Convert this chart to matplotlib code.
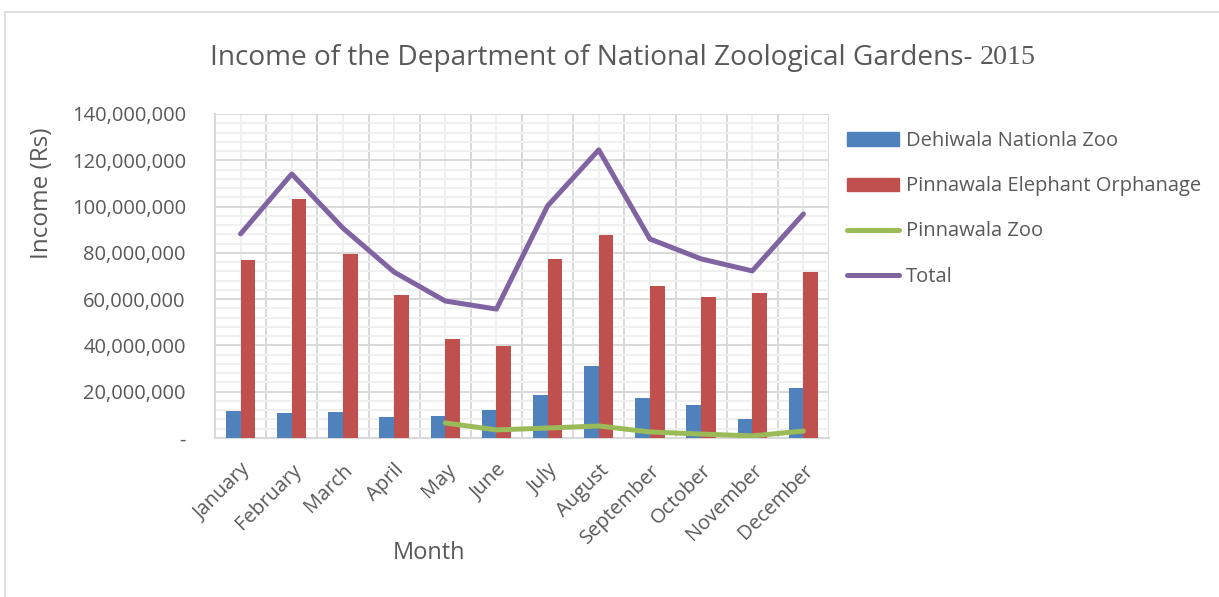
import numpy as np
import matplotlib.pyplot as plt
from matplotlib.patches import Rectangle, Patch
from matplotlib.lines import Line2D
from matplotlib.ticker import FuncFormatter, MultipleLocator

months = ['January', 'February', 'March', 'April', 'May', 'June', 'July',
          'August', 'September', 'October', 'November', 'December']

# values in Rs
dehiwala = [11.7e6, 10.8e6, 11.2e6, 9.1e6, 9.5e6, 12.1e6, 18.6e6,
            31.1e6, 17.3e6, 14.3e6, 8.2e6, 21.6e6]
pinnawala_eo = [76.9e6, 103.3e6, 79.5e6, 61.8e6, 42.8e6, 39.8e6, 77.4e6,
                87.7e6, 65.7e6, 60.9e6, 62.7e6, 71.7e6]
pinnawala_zoo = [np.nan, np.nan, np.nan, np.nan, 6.5e6, 3.5e6, 4.3e6,
                 5.2e6, 2.6e6, 1.7e6, 0.9e6, 3.0e6]
total = [88.2e6, 114.1e6, 90.7e6, 71.7e6, 59.2e6, 55.7e6, 100.3e6,
         124.5e6, 86.0e6, 77.4e6, 72.2e6, 96.8e6]

blue = '#4F81BD'
red = '#C0504D'
green = '#9BBB59'
purple = '#8064A2'
txt = '#595959'
font = 'Open Sans'

fig = plt.figure(figsize=(12.19, 5.97), dpi=100)
ax = fig.add_axes([215 / 1219, 1 - 438 / 597, 614 / 1219, 324 / 597])

# outer chart border
fig.patches.append(Rectangle((5 / 1219, -0.1), 1.2, 1 - 12 / 597 + 0.1,
                             transform=fig.transFigure, fill=False,
                             edgecolor='#D9D9D9', linewidth=1.2))

x = np.arange(len(months))
w = 0.286
ax.bar(x - w / 2, dehiwala, w, color=blue, zorder=3)
ax.bar(x + w / 2, pinnawala_eo, w, color=red, zorder=3)
ax.plot(x, pinnawala_zoo, color=green, linewidth=3.6, solid_capstyle='round',
        solid_joinstyle='round', zorder=4)
ax.plot(x, total, color=purple, linewidth=3.6, solid_capstyle='round',
        solid_joinstyle='round', zorder=4)

ax.set_xlim(-0.5, 11.5)
ax.set_ylim(0, 140e6)

# grid: horizontal major/minor, vertical at boundaries and centers
ax.yaxis.set_major_locator(MultipleLocator(20e6))
ax.yaxis.set_minor_locator(MultipleLocator(4e6))
ax.set_xticks(x)
ax.set_xticks(np.arange(-0.5, 12, 1), minor=True)
ax.grid(which='major', axis='y', color='#D9D9D9', linewidth=1.4, zorder=0)
ax.grid(which='minor', axis='y', color='#F0F0F0', linewidth=1.4, zorder=0)
ax.grid(which='minor', axis='x', color='#D9D9D9', linewidth=1.4, zorder=0)
ax.grid(which='major', axis='x', color='#F0F0F0', linewidth=1.4, zorder=0)
ax.set_axisbelow(True)

for s in ['top', 'right']:
    ax.spines[s].set_visible(False)
for s in ['left', 'bottom']:
    ax.spines[s].set_color('#D9D9D9')
    ax.spines[s].set_linewidth(1.5)

ax.tick_params(which='both', length=0)
ax.tick_params(axis='y', pad=21)
ax.yaxis.set_major_formatter(FuncFormatter(lambda v, p: '-' if v == 0 else f'{v:,.0f}'))
for lab in ax.get_yticklabels():
    lab.set_fontsize(14.5)
    lab.set_color(txt)
    lab.set_fontfamily(font)
ax.set_xticklabels(months, rotation=45, ha='right', rotation_mode='anchor',
                   fontsize=14.5, color=txt, fontfamily=font)
ax.tick_params(axis='x', pad=16)

ax.set_ylabel('Income (Rs)', fontsize=17.5, color=txt, fontfamily=font)
ax.yaxis.set_label_coords((42 - 215) / 614, (438 - 193) / 324)
ax.yaxis.label.set_va('center')
ax.set_xlabel('Month', fontsize=17, color=txt, fontfamily=font)
ax.xaxis.set_label_coords((429 - 215) / 614, (438 - 553) / 324)
ax.xaxis.label.set_va('center')

t1 = fig.text(210 / 1219, 1 - 58 / 597, 'Income of the Department of National Zoological Gardens- ',
              fontsize=20.2, color=txt, fontfamily=font, va='center', ha='left')
fig.canvas.draw()
bb = t1.get_window_extent()
fig.text(bb.x1 / fig.bbox.width, 1 - 58 / 597, '2015', fontsize=20.2, color=txt,
         fontfamily='Liberation Serif', va='center', ha='left')

handles = [Patch(color=blue), Patch(color=red),
           Line2D([], [], color=green, linewidth=3.6, solid_capstyle='round'),
           Line2D([], [], color=purple, linewidth=3.6, solid_capstyle='round')]
labels = ['Dehiwala Nationla Zoo', 'Pinnawala Elephant Orphanage', 'Pinnawala Zoo', 'Total']
leg = fig.legend(handles, labels, loc='upper left', bbox_to_anchor=(829 / 1219, 1 - 113 / 597),
                 frameon=False, labelspacing=1.25, handlelength=2.6,
                 handleheight=0.65, handletextpad=0.3, prop={'family': font, 'size': 14.5})
for t in leg.get_texts():
    t.set_color(txt)

fig.savefig('out.png', dpi=100)
